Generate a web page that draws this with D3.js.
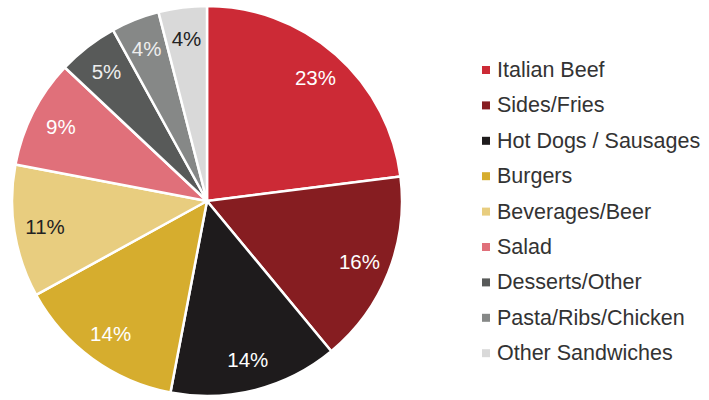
<!DOCTYPE html>
<html><head><meta charset="utf-8">
<script src="https://cdn.jsdelivr.net/npm/d3@7"></script>
<style>body{margin:0;background:#fff;}svg{display:block;}</style>
</head><body>
<svg id="c" width="709" height="400"></svg>
<script>
const categories = ["Italian Beef","Sides/Fries","Hot Dogs / Sausages","Burgers","Beverages/Beer","Salad","Desserts/Other","Pasta/Ribs/Chicken","Other Sandwiches"];
const values = [23,16,14,14,11,9,5,4,4];
const colors = ["#cc2a36","#861d21","#1e1b1c","#d6ad2e","#e8cd7f","#e0707a","#585a59","#868887","#d9d9d9"];
const labelColors = ["#fff","#fff","#fff","#fff","#222","#fff","#eee","#eee","#222"];

const svg = d3.select("#c");
const cx = 207, cy = 201, R = 195;
const g = svg.append("g").attr("transform", `translate(${cx},${cy})`);
const pie = d3.pie().sort(null).value(d => d)(values);
const arc = d3.arc().innerRadius(0).outerRadius(R);
const labelArc = d3.arc().innerRadius(164).outerRadius(164);

g.selectAll("path").data(pie).join("path")
  .attr("d", arc).attr("fill", (d,i) => colors[i])
  .attr("stroke", "#fff").attr("stroke-width", 2.5).attr("stroke-linejoin","round");

g.selectAll("text").data(pie).join("text")
  .attr("transform", d => `translate(${labelArc.centroid(d)})`)
  .attr("text-anchor","middle").attr("dominant-baseline","central")
  .attr("font-family","Liberation Sans, Arial, sans-serif").attr("font-size",20.5)
  .attr("fill",(d,i)=>labelColors[i])
  .text(d => d.data + "%");

const legend = svg.append("g");
const y0 = 70, dy = 35.4;
categories.forEach((c,i) => {
  legend.append("rect").attr("x",482).attr("y",y0+i*dy-4).attr("width",8).attr("height",8).attr("fill",colors[i]);
  legend.append("text").attr("x",497).attr("y",y0+i*dy).attr("dominant-baseline","central")
    .attr("font-family","Liberation Sans, Arial, sans-serif").attr("font-size",21.5).attr("fill","#333").text(c);
});
</script>
</body></html>
